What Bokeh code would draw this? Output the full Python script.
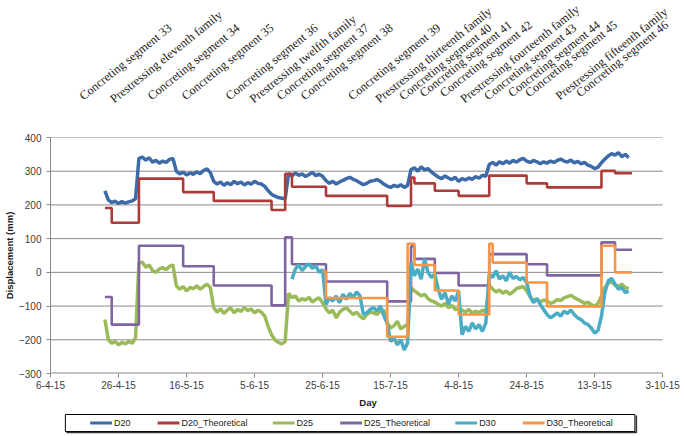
import math
import pandas as pd
from bokeh.plotting import figure
from bokeh.layouts import column
from bokeh.models import Range1d, FixedTicker, CustomJSTickFormatter
from bokeh.core.properties import value
from bokeh.embed import file_html
from bokeh.resources import INLINE

# ---------------- data ----------------
AXIS_START = "2015-04-06"
AXIS_END = "2015-10-03"
TICK_DATES = ["2015-04-06", "2015-04-26", "2015-05-16", "2015-06-05", "2015-06-25",
              "2015-07-15", "2015-08-04", "2015-08-24", "2015-09-13", "2015-10-03"]
Y_TICKS = [-300, -200, -100, 0, 100, 200, 300, 400]

EVENT_LABELS = ["Concreting segment 33", "Prestressing eleventh family", "Concreting segment 34",
                "Concreting segment 35", "Concreting segment 36", "Prestressing twelfth family",
                "Concreting segment 37", "Concreting segment 38", "Concreting segment 39",
                "Prestressing thirteenth family", "Concreting segment 40", "Concreting segment 41",
                "Concreting segment 42", "Prestressing fourteenth family", "Concreting segment 43",
                "Concreting segment 44", "Concreting segment 45", "Prestressing fifteenth family",
                "Concreting segment 46"]
EVENT_DATES = ["2015-04-15", "2015-04-24", "2015-05-05", "2015-05-15", "2015-05-28",
               "2015-06-04", "2015-06-12", "2015-06-19", "2015-07-03", "2015-07-11",
               "2015-07-18", "2015-07-24", "2015-07-30", "2015-08-05", "2015-08-12",
               "2015-08-19", "2015-08-24", "2015-09-02", "2015-09-08"]
# label baseline height above the chart strip's bottom (layout, px)
EVENT_BASE = [35, 32, 35, 35, 35, 32, 35, 35, 35, 32, 35, 38, 38, 32, 35, 38, 38, 35, 38]

# daily measured displacements (mm)
D20_START = "2015-04-22"
D20 = [242, 215, 207, 211, 204, 210, 205, 209, 212, 218,
       338, 342, 333, 340, 327, 332, 324, 330, 326, 335, 338,
       300, 292, 297, 289, 295, 291, 298, 293, 302, 307, 296,
       270, 262, 268, 258, 266, 260, 270, 263, 268, 259, 266, 262, 270, 264, 262,
       255, 242, 232, 226, 222, 220, 218,
       293, 286, 295, 288, 292, 284, 290, 296, 287, 291, 285,
       272, 264, 270, 262, 268, 273, 278, 282, 276, 272, 266, 260, 264, 270,
       272, 275, 270, 262, 256, 252, 258, 254, 260, 252, 258,
       305, 310, 300, 313, 304, 308, 298,
       290, 283, 278, 286, 280, 275, 282, 270, 278, 274, 280, 276, 284, 279, 288, 285,
       320, 326, 318, 328, 322, 330, 324, 332, 327, 334, 338, 330, 326, 332, 328,
       322, 328, 324, 330, 326, 332, 336, 330, 327, 333, 325, 329, 322, 326, 318, 314, 308, 312,
       325, 336, 345, 352, 348, 355, 343, 350, 340]

D25_START = "2015-04-22"
D25 = [-140, -200, -210, -205, -215, -208, -212, -205, -210, -195,
       28, 30, 15, 22, 5, 0, 10, 14, 8, 18, 22,
       -40, -50, -42, -55, -45, -48, -40, -50, -42, -35, -45,
       -105, -118, -108, -122, -112, -106, -120, -110, -116, -104, -114, -108, -120, -112, -118,
       -130, -160, -185, -200, -208, -212, -205,
       -62, -75, -70, -85, -78, -82, -74, -88, -80, -76, -90,
       -108, -120, -112, -135, -118, -110, -105, -115, -125, -118, -130, -138, -125, -118,
       -120, -125, -115, -112, -150, -165, -158, -145, -168, -160, -155,
       -45, -55, -62, -70, -65, -78, -85,
       -88, -95, -100, -92, -105, -98, -110, -108, -112, -118, -110, -122, -115, -120, -112, -118,
       -38, -50, -58, -52, -62, -55, -65, -58, -48, -45, -42, -55, -72, -85, -78,
       -88, -82, -85, -92, -88, -80, -84, -76, -72, -68, -75, -80, -86, -92, -88, -96, -100, -92,
       -70, -45, -32, -28, -38, -42, -35, -45, -48]

D30_START = "2015-06-16"
D30 = [-20, 10, 22, 5, 18, 25, 12, 20, 0, 8,
       -95, -75, -85, -70, -90, -65, -80, -62, -75, -58, -70,
       -125, -120, -110, -105, -115, -100, -128,
       -150, -205, -195, -215, -200, -230, -210,
       30, -10, 10, -20, 40, 0, -15, -5,
       -50, -80, -60, -95, -70, -85, -55,
       -185, -160, -175, -150, -168, -155, -175, -150,
       -5, -15, 5, -20, -10, -25, 0, -18, -12, -22, -15, -30,
       -70, -90, -78, -95, -110,
       -125, -135, -128, -120, -130, -115, -122, -112, -125, -135, -140, -150, -155, -165, -180, -172,
       -130, -60, -25, -18, -35, -50, -45, -60, -55]

# theoretical values (step changes)
D20_TH_DATES = ["2015-04-22", "2015-04-24", "2015-05-02", "2015-05-15", "2015-05-24",
                "2015-06-10", "2015-06-14", "2015-06-16", "2015-06-26", "2015-07-14",
                "2015-07-21", "2015-07-22", "2015-07-28", "2015-08-04", "2015-08-13",
                "2015-08-24", "2015-08-30", "2015-09-15", "2015-09-19", "2015-09-24"]
D20_TH = [191, 147, 278, 238, 212, 185, 292, 254, 227, 197,
          281, 264, 242, 227, 287, 264, 252, 301, 294, 294]

D25_TH_DATES = D20_TH_DATES
D25_TH = [-73, -155, 79, 18, -39, -98, 104, 24, -27, -86,
          77, 40, -2, -39, 54, 24, -9, 89, 67, 67]

D30_TH_DATES = ["2015-06-25", "2015-06-26", "2015-07-14", "2015-07-20", "2015-07-22",
                "2015-07-28", "2015-08-04", "2015-08-13", "2015-08-14", "2015-08-24",
                "2015-08-30", "2015-09-15", "2015-09-19", "2015-09-24"]
D30_TH = [3, -76, -191, 85, 22, -54, -125, 85, 29, -30, -101, 79, 0, 0]

SERIES_NAMES = ["D20", "D20_Theoretical", "D25", "D25_Theoretical", "D30", "D30_Theoretical"]
COLORS = ["#3D6BA7", "#AE3B37", "#9BBB59", "#8064A2", "#4BACC6", "#F79646"]

# legend layout (pixel positions of each legend entry's line start)
LEGEND_X = [85, 153, 269, 337, 453, 521]


def ms(d):
    return pd.Timestamp(d).value // 10**6


def daily(start, vals):
    return pd.date_range(start, periods=len(vals), freq="D")


W = 685
LEFT = 45
AXIS_RIGHT_GAP = 23          # the date axis stops this many px before the right edge
TOP_H, MAIN_H, LEG_H = 132, 278, 26
x0, x1 = ms(AXIS_START), ms(AXIS_END)
# frames run to the right edge; extend the range so that AXIS_END sits AXIS_RIGHT_GAP px in
x_ext = x0 + (x1 - x0) * (W - LEFT) / (W - LEFT - AXIS_RIGHT_GAP)
GRID = "#8a8a8a"


def bare(height, xr, yr):
    f = figure(width=W, height=height, output_backend="svg", toolbar_location=None,
               x_axis_type=None, y_axis_type=None, x_range=xr, y_range=yr,
               min_border_left=LEFT, min_border_right=0, min_border_top=0,
               min_border_bottom=0)
    f.outline_line_color = None
    f.grid.visible = False
    return f


# ---------------- top strip: construction events ----------------
top = bare(TOP_H, Range1d(x0, x_ext), Range1d(0, TOP_H))
top.text(x=[ms(d) for d in EVENT_DATES], y=EVENT_BASE, text=EVENT_LABELS,
         angle=math.radians(38.7), text_align="left", text_baseline="alphabetic",
         text_font=value("Liberation Serif"), text_font_size="12.3px", text_color="#222222")

# ---------------- main chart ----------------
p = figure(width=W, height=MAIN_H, output_backend="svg", toolbar_location=None,
           x_axis_type="datetime",
           x_range=Range1d(x0, x_ext), y_range=Range1d(-300, 400),
           min_border_left=LEFT, min_border_right=0, min_border_top=5,
           min_border_bottom=36)
p.outline_line_color = None

# horizontal gridlines (and the date axis line at -300) stop at the last date tick
n = len(Y_TICKS)
p.segment(x0=[x0] * n, x1=[x1] * n, y0=Y_TICKS, y1=Y_TICKS, line_color=GRID,
          line_width=[2 if t == Y_TICKS[0] else 1 for t in Y_TICKS])

p.line(daily(D20_START, D20), D20, line_color=COLORS[0], line_width=3.5)
p.step(pd.to_datetime(D20_TH_DATES), D20_TH, mode="after", line_color=COLORS[1], line_width=2.6)
p.line(daily(D25_START, D25), D25, line_color=COLORS[2], line_width=3.5)
p.step(pd.to_datetime(D25_TH_DATES), D25_TH, mode="after", line_color=COLORS[3], line_width=2.6)
p.line(daily(D30_START, D30), D30, line_color=COLORS[4], line_width=3.5)
p.step(pd.to_datetime(D30_TH_DATES), D30_TH, mode="after", line_color=COLORS[5], line_width=2.6)

p.xaxis.ticker = FixedTicker(ticks=[ms(d) for d in TICK_DATES])
p.xaxis.formatter = CustomJSTickFormatter(code="""
const d = new Date(tick);
return d.getUTCDate() + "-" + (d.getUTCMonth() + 1) + "-" + String(d.getUTCFullYear()).slice(2);
""")
p.yaxis.ticker = FixedTicker(ticks=Y_TICKS)
for ax in (p.xaxis[0], p.yaxis[0]):
    ax.axis_line_color = GRID
    ax.major_tick_line_color = GRID
    ax.major_tick_out = 4
    ax.major_tick_in = 0
    ax.minor_tick_line_color = None
    ax.major_label_text_font = "Liberation Sans"
    ax.major_label_text_font_size = "10px"
    ax.major_label_text_color = "#404040"
    ax.axis_label_text_font = "Liberation Sans"
    ax.axis_label_text_font_size = "9.5px"
    ax.axis_label_text_font_style = "bold"
    ax.axis_label_text_color = "#1a1a1a"
p.xaxis.axis_line_color = None
p.xaxis.major_label_standoff = 3
p.yaxis.major_label_standoff = 5
p.xaxis.axis_label = "Day"
p.xaxis.axis_label_standoff = 5
p.yaxis.axis_label = "Displacement (mm)"
p.yaxis.axis_label_standoff = 1
p.grid.visible = False

# ---------------- legend strip (pixel coordinates) ----------------
leg = bare(LEG_H, Range1d(LEFT, W), Range1d(0, LEG_H))
leg.quad(left=[60], right=[634], bottom=[5], top=[22], fill_color=None,
         line_color="#000000", line_width=1)
leg.line([635.5, 635.5, 61], [21, 4, 4], line_color="#333333", line_width=1.5)
leg.segment(x0=LEGEND_X, x1=[x + 22 for x in LEGEND_X], y0=[13.5] * 6, y1=[13.5] * 6,
            line_color=COLORS, line_width=3)
leg.text(x=[x + 24 for x in LEGEND_X], y=[13.5] * 6, text=SERIES_NAMES,
         text_align="left", text_baseline="middle",
         text_font=value("Liberation Sans"), text_font_size="9px", text_color="#1a1a1a")

layout = column(top, p, leg, spacing=0)
open("out.html", "w").write(file_html(layout, INLINE))
